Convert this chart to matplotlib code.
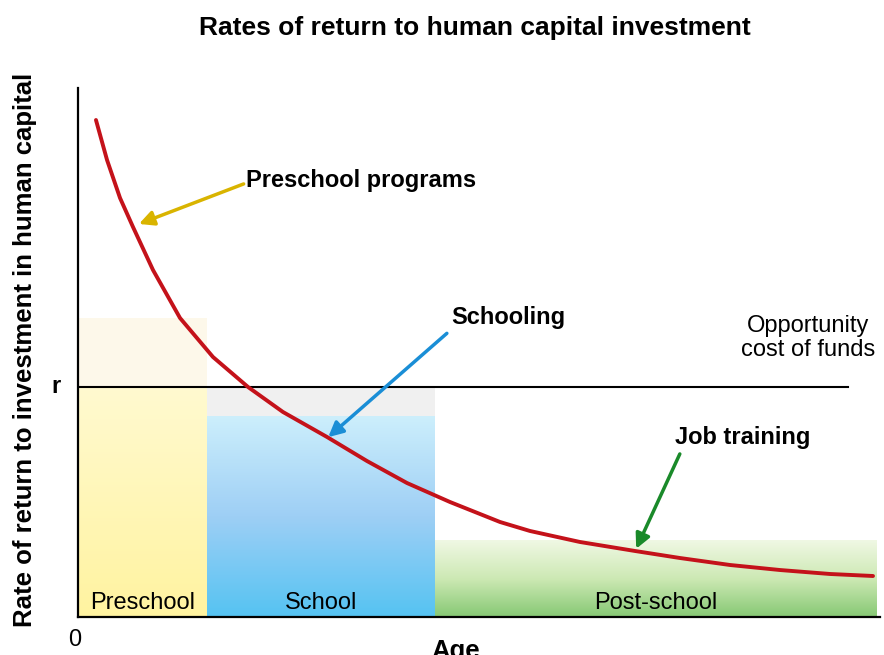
import matplotlib
matplotlib.use('Agg')
import matplotlib.pyplot as plt
import numpy as np
from matplotlib.colors import LinearSegmentedColormap

# curve (age units 0-100, return units 0-100)
age = [2.24, 3.62, 5.24, 6.86, 9.35, 12.72, 16.83, 21.20, 25.56, 31.05, 36.03,
       41.02, 46.38, 52.62, 56.36, 62.59, 69.45, 75.06, 81.30, 87.53, 93.77, 99.13]
ret = [93.95, 86.39, 79.21, 73.72, 65.60, 56.52, 49.15, 43.48, 38.75, 34.03, 29.49,
       25.33, 21.74, 17.96, 16.26, 14.18, 12.48, 11.15, 9.83, 8.88, 8.13, 7.75]
r_level = 43.5

stages = ["Preschool", "School", "Post-school"]
stage_edges = [0, 16.1, 44.5, 99.6]
stage_tops = [43.5, 38.0, 14.5]

plt.rcParams['font.family'] = ['Liberation Sans', 'DejaVu Sans']

fig = plt.figure(figsize=(8.84, 6.55), dpi=100)
ax = fig.add_axes([78/884, 38/655, 802/884, 529/655])
ax.set_xlim(0, 100)
ax.set_ylim(0, 100)

stage_cols = [["#fff3a0", "#fffad0"],
              ["#55c3f2", "#9ecff5", "#cdeffc"],
              ["#86c874", "#cde9b4", "#f0f8e4"]]
grad = np.linspace(0, 1, 256).reshape(-1, 1)
for i, name in enumerate(stages):
    cmap = LinearSegmentedColormap.from_list(name, stage_cols[i])
    ax.imshow(grad, cmap=cmap, origin='lower', aspect='auto',
              extent=[stage_edges[i], stage_edges[i+1], 0, stage_tops[i]], zorder=0)
    ax.text((stage_edges[i] + stage_edges[i+1]) / 2, 2.7, name,
            ha='center', va='center', fontsize=17)
# faint halos above the colored blocks
ax.fill_between([stage_edges[0], stage_edges[1]], r_level, 56.5, color='#fdf8ea', zorder=0, lw=0)
ax.fill_between([stage_edges[1], stage_edges[2]], stage_tops[1], r_level, color='#f0f0f0', zorder=0, lw=0)

ax.plot([0, 96], [r_level, r_level], color='black', lw=1.5, zorder=2)
ax.plot(age, ret, color='#c4121a', lw=2.8, zorder=3,
        solid_capstyle='round', solid_joinstyle='round')

ax.set_xticks([])
ax.set_yticks([])
for s in ['top', 'right']:
    ax.spines[s].set_visible(False)
for s in ['left', 'bottom']:
    ax.spines[s].set_linewidth(1.6)

ax.annotate("Preschool programs", xy=(7.6, 74.3), xytext=(21, 82.5),
            fontsize=17, fontweight='bold', va='center', ha='left',
            arrowprops=dict(arrowstyle='-|>', color='#d9b400', lw=2.5, mutation_scale=22,
                            shrinkA=0, shrinkB=0, relpos=(0, 0.4)))
ax.annotate("Schooling", xy=(31.2, 34.0), xytext=(46.6, 56.6),
            fontsize=17, fontweight='bold', va='center', ha='left',
            arrowprops=dict(arrowstyle='-|>', color='#1a8ed6', lw=2.5, mutation_scale=22,
                            shrinkA=2, shrinkB=0, relpos=(0, 0)))
ax.annotate("Job training", xy=(69.6, 12.9), xytext=(74.5, 34.0),
            fontsize=17, fontweight='bold', va='center', ha='left',
            arrowprops=dict(arrowstyle='-|>', color='#1a8a2a', lw=2.5, mutation_scale=22,
                            shrinkA=2, shrinkB=0, relpos=(0.05, 0)))

ax.text(91, 52.7, "Opportunity\ncost of funds", ha='center', va='center',
        fontsize=17, linespacing=1.1)
ax.text(-2.2, r_level, "r", ha='right', va='center', fontsize=17, fontweight='bold')
ax.text(-0.4, -2.3, "0", ha='center', va='top', fontsize=17)

fig.text(0.537, 0.957, "Rates of return to human capital investment",
         ha='center', va='center', fontsize=19, fontweight='bold')
fig.text(0.028, 0.466, "Rate of return to investment in human capital",
         ha='center', va='center', rotation=90, fontsize=18.5, fontweight='bold')
fig.text(0.515, 0.006, "Age", ha='center', va='center', fontsize=18.5, fontweight='bold')

fig.savefig("out.png", dpi=100)
